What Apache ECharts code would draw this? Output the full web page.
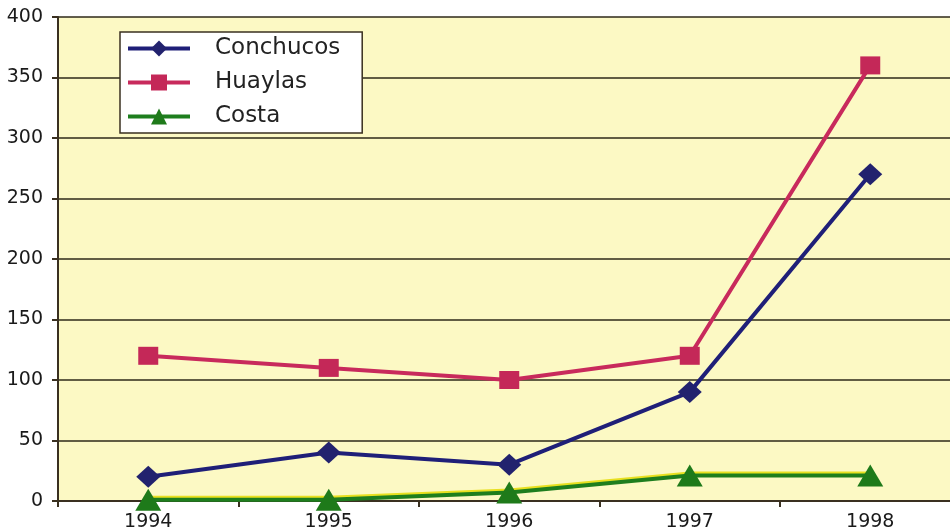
<!DOCTYPE html>
<html><head><meta charset="utf-8">
<script src="https://cdn.jsdelivr.net/npm/echarts@6/dist/echarts.min.js"></script>
<style>html,body{margin:0;padding:0;background:#fff}#c{width:950px;height:530px}</style>
</head><body><div id="c"></div>
<script>
var years = ['1994','1995','1996','1997','1998'];
var conchucos = [20, 40, 30, 90, 270];
var huaylas = [120, 110, 100, 120, 360];
var costa = [1, 1, 7, 21, 21];
var yTicks = {min: 0, max: 400, interval: 50};

var chart = echarts.init(document.getElementById('c'));
var font = 'DejaVu Sans, Arial, sans-serif';
chart.setOption({
  animation: false,
  backgroundColor: '#ffffff',
  grid: {left: 58, width: 902.5, top: 17, bottom: 29, show: true, backgroundColor: '#FCF9C4', borderWidth: 0, outerBoundsMode: 'none', containLabel: false},
  legend: {
    orient: 'vertical', left: 120, top: 32,
    backgroundColor: '#ffffff', borderColor: '#3a3020', borderWidth: 1.5,
    padding: [5, 22, 5, 6], itemWidth: 62, itemHeight: 20, itemGap: 11,
    lineStyle: {width: 4},
    textStyle: {fontFamily: font, fontSize: 23, color: '#222', padding: [0, 0, 0, 20]},
    data: ['Conchucos', 'Huaylas', 'Costa']
  },
  xAxis: {
    type: 'category', data: years, boundaryGap: true,
    axisLine: {lineStyle: {color: '#3a3020', width: 2}},
    axisTick: {show: true, length: 6, lineStyle: {color: '#3a3020', width: 2}},
    axisLabel: {fontFamily: font, fontSize: 19, color: '#1a1a1a', margin: 12},
    splitLine: {show: false}
  },
  yAxis: {
    type: 'value', min: yTicks.min, max: yTicks.max, interval: yTicks.interval,
    axisLine: {show: true, lineStyle: {color: '#3a3020', width: 2}},
    axisTick: {show: true, length: 6, lineStyle: {color: '#3a3020', width: 2}},
    axisLabel: {fontFamily: font, fontSize: 19, color: '#1a1a1a', margin: 15},
    splitLine: {show: true, lineStyle: {color: '#2e2818', width: 1.5}}
  },
  series: [
    {name: 'Conchucos', type: 'line', data: conchucos, symbol: 'diamond', symbolSize: [24, 22],
     lineStyle: {color: '#1f1f78', width: 4}, itemStyle: {color: '#22226e'}, z: 3},
    {name: 'Huaylas', type: 'line', data: huaylas, symbol: 'rect', symbolSize: [20, 18],
     lineStyle: {color: '#c82a5c', width: 4}, itemStyle: {color: '#c42858'}, z: 2},
    {name: 'Costa', type: 'line', data: costa, symbol: 'triangle', symbolSize: [26, 22],
     lineStyle: {color: '#1e7e1e', width: 4, shadowColor: '#e8e020', shadowOffsetY: -2}, itemStyle: {color: '#1e7a1a'}, z: 4}
  ]
});
</script></body></html>
